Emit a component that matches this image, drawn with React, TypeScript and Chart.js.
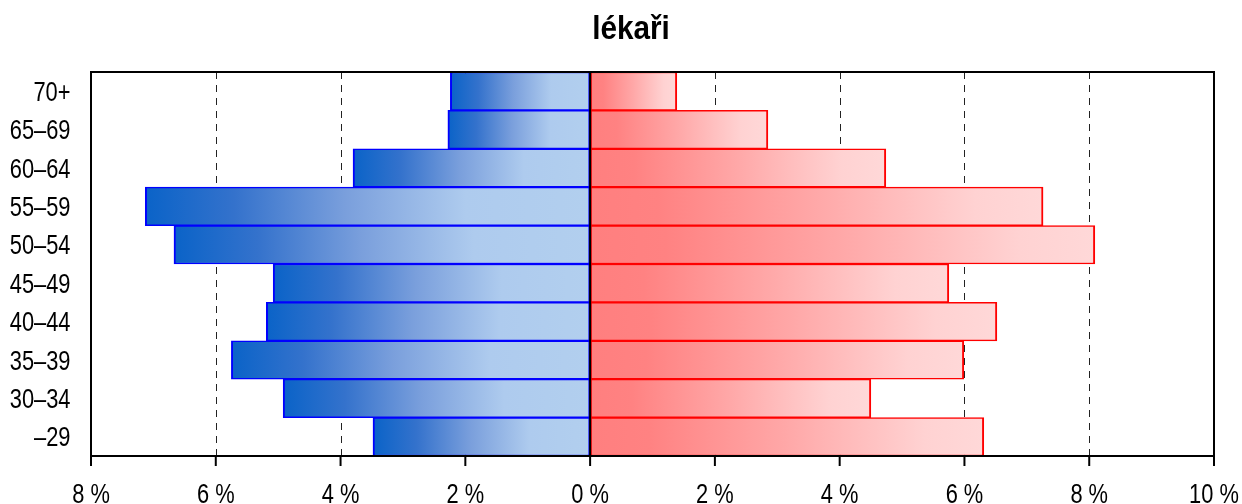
import React, { useEffect, useRef } from "react";
import { Chart, registerables } from "chart.js";

Chart.register(...registerables);

const TITLE = "lékaři";
const categories = ["70+", "65–69", "60–64", "55–59", "50–54", "45–49", "40–44", "35–39", "30–34", "–29"];
// left side (shown as negative), percent
const menValues = [2.24, 2.28, 3.8, 7.13, 6.67, 5.08, 5.19, 5.75, 4.92, 3.48];
// right side, percent
const womenValues = [1.39, 2.85, 4.74, 7.26, 8.09, 5.75, 6.52, 5.99, 4.5, 6.31];
const xMin = -8;
const xMax = 10;
const xStep = 2;
const formatTick = (v: number) => `${Math.abs(v)} %`;

const LABEL_FONT = "28px 'Liberation Sans', Arial, sans-serif";
const TITLE_FONT = "bold 33px 'Liberation Sans', Arial, sans-serif";

const blueStops: [number, string][] = [
  [0, "#0a63c8"],
  [0.2, "#3472cc"],
  [0.45, "#7a9fdc"],
  [0.72, "#aecbee"],
  [1, "#b2cfee"],
];
const redStops: [number, string][] = [
  [0, "#ff7f7f"],
  [0.15, "#ff8282"],
  [0.5, "#ffa8a8"],
  [0.85, "#ffd2d2"],
  [1, "#ffd8d8"],
];

function gradientFor(stops: [number, string][], fromOuter: boolean) {
  return (ctx: any) => {
    const chart = ctx.chart;
    const xs = chart.scales && chart.scales.x;
    if (!xs || ctx.type !== "data") return stops[0][1];
    const v = ctx.raw as number;
    const p0 = xs.getPixelForValue(0);
    const p1 = xs.getPixelForValue(v);
    if (!isFinite(p0) || !isFinite(p1) || p0 === p1) return stops[0][1];
    const g = fromOuter
      ? chart.ctx.createLinearGradient(p1, 0, p0, 0)
      : chart.ctx.createLinearGradient(p0, 0, p1, 0);
    stops.forEach(([o, c]) => g.addColorStop(o, c));
    return g;
  };
}

function scaledText(ctx: CanvasRenderingContext2D, text: string, x: number, y: number, sx: number, align: CanvasTextAlign) {
  ctx.save();
  ctx.translate(x, y);
  ctx.scale(sx, 1);
  ctx.textAlign = align;
  ctx.textBaseline = "alphabetic";
  ctx.fillText(text, 0, 0);
  ctx.restore();
}

const framePlugin = {
  id: "frame",
  beforeDatasetsDraw(chart: any) {
    const { ctx, chartArea } = chart;
    const xs = chart.scales.x;
    ctx.save();
    ctx.strokeStyle = "#222";
    ctx.lineWidth = 1;
    ctx.setLineDash([7, 6]);
    xs.ticks.forEach((t: any) => {
      const v = t.value;
      if (v === 0 || v === xMin || v === xMax) return;
      const px = Math.round(xs.getPixelForValue(v)) + 0.5;
      ctx.beginPath();
      ctx.moveTo(px, chartArea.top);
      ctx.lineTo(px, chartArea.bottom);
      ctx.stroke();
    });
    ctx.restore();
  },
  afterDatasetsDraw(chart: any) {
    const { ctx, chartArea } = chart;
    const xs = chart.scales.x;
    const ys = chart.scales.y;
    ctx.save();
    ctx.strokeStyle = "#000";
    ctx.lineWidth = 2;
    const p0 = xs.getPixelForValue(0);
    ctx.beginPath();
    ctx.moveTo(p0, chartArea.top);
    ctx.lineTo(p0, chartArea.bottom);
    ctx.stroke();
    ctx.strokeRect(chartArea.left, chartArea.top, chartArea.right - chartArea.left, chartArea.bottom - chartArea.top);
    // tick marks + labels on x axis
    ctx.fillStyle = "#000";
    ctx.font = LABEL_FONT;
    xs.ticks.forEach((t: any) => {
      const px = xs.getPixelForValue(t.value);
      ctx.beginPath();
      ctx.moveTo(px, chartArea.bottom);
      ctx.lineTo(px, chartArea.bottom + 10);
      ctx.stroke();
      scaledText(ctx, formatTick(t.value), px, 503, 0.78, "center");
    });
    // y labels
    categories.forEach((c, i) => {
      const py = ys.getPixelForValue(i);
      scaledText(ctx, c, 70.5, py + 9.5, 0.78, "right");
    });
    // title
    ctx.font = TITLE_FONT;
    scaledText(ctx, TITLE, 631, 39, 0.9, "center");
    ctx.restore();
  },
};

export default function App() {
  const ref = useRef<HTMLCanvasElement | null>(null);
  useEffect(() => {
    document.body.style.margin = "0";
    const canvas = ref.current;
    if (!canvas) return;
    const chart = new Chart(canvas, {
      type: "bar",
      data: {
        labels: categories,
        datasets: [
          {
            label: "muži",
            data: menValues.map((v) => -v),
            backgroundColor: gradientFor(blueStops, true),
            borderColor: "#0000ff",
            borderWidth: { top: 1.5, bottom: 1.5, left: 2, right: 2 },
            borderSkipped: false,
            barPercentage: 1,
            categoryPercentage: 1,
          },
          {
            label: "ženy",
            data: womenValues,
            backgroundColor: gradientFor(redStops, false),
            borderColor: "#ff0000",
            borderWidth: { top: 1.5, bottom: 1.5, left: 2, right: 2 },
            borderSkipped: false,
            barPercentage: 1,
            categoryPercentage: 1,
          },
        ],
      },
      options: {
        indexAxis: "y",
        responsive: false,
        animation: false,
        layout: { padding: { left: 0, right: 28, top: 72, bottom: 0 } },
        plugins: {
          legend: { display: false },
          tooltip: { enabled: false },
          title: { display: false },
        },
        scales: {
          x: {
            type: "linear",
            stacked: true,
            min: xMin,
            max: xMax,
            afterFit: (s: any) => {
              s.height = 48;
            },
            ticks: { stepSize: xStep, display: false },
            grid: { display: false },
            border: { display: false },
          },
          y: {
            stacked: true,
            afterFit: (s: any) => {
              s.width = 91;
            },
            ticks: { display: false },
            grid: { display: false },
            border: { display: false },
          },
        },
      },
      plugins: [framePlugin],
    } as any);
    return () => chart.destroy();
  }, []);
  return (
    <div style={{ width: 1242, height: 504, background: "#fff" }}>
      <canvas ref={ref} width={1242} height={504} />
    </div>
  );
}
